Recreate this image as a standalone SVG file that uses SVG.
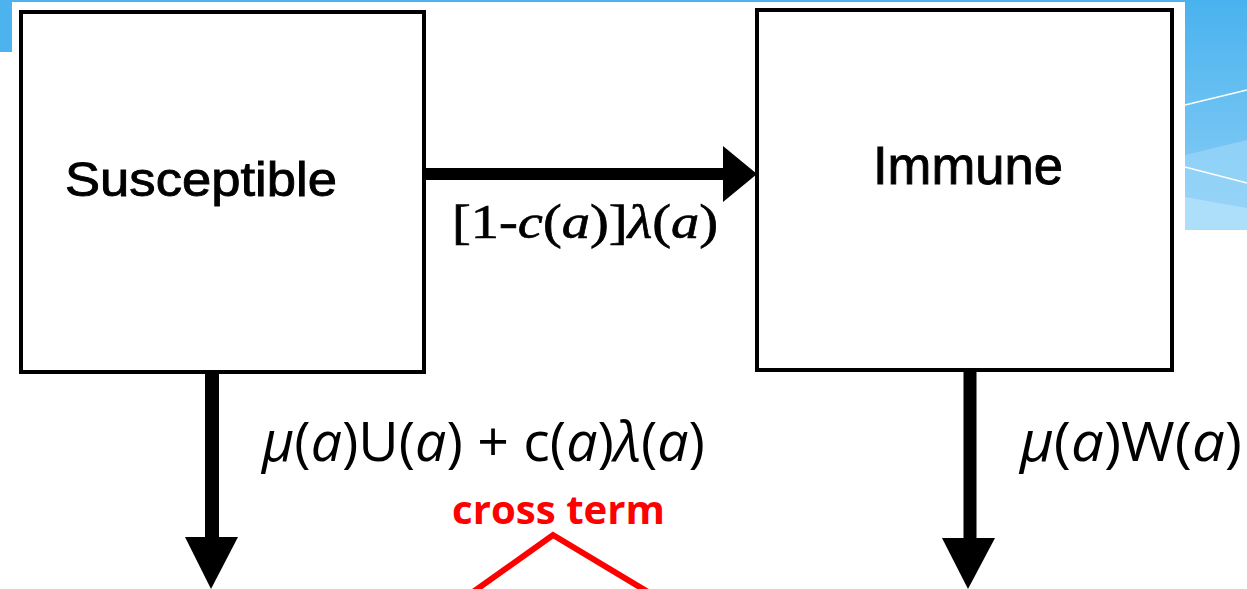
<svg xmlns="http://www.w3.org/2000/svg" width="1247" height="589" viewBox="0 0 1247 589">
<defs>
<linearGradient id="bg" x1="0" y1="0" x2="0" y2="1">
<stop offset="0" stop-color="#49b2ee"/>
<stop offset="1" stop-color="#8fd0f6"/>
</linearGradient>
<style>
.box{fill:#fff;stroke:#000;stroke-width:4}
.shaft{stroke:#000;fill:none}
.head{fill:#000}
.lbl{font-family:"Liberation Sans",Arial,sans-serif;fill:#000;stroke:#000;stroke-width:0.9}
.tm{font-family:"Liberation Serif","Times New Roman",serif;fill:#000;stroke:#000;stroke-width:0.7}
.eq{font-family:"Open Sans","Noto Sans",sans-serif;fill:#000}
.it{font-style:italic}
.red{font-family:"Open Sans","Noto Sans",sans-serif;font-weight:bold;fill:#ff0000}
</style>
</defs>
<rect x="0" y="0" width="1247" height="589" fill="#fff"/>
<!-- background decoration -->
<g id="decor">
<rect x="0" y="0" width="1247" height="2" fill="#4db3ee"/>
<rect x="0" y="0" width="12" height="52" fill="#4db3ee"/>
<rect x="1185" y="0" width="62" height="230" fill="url(#bg)"/>
<polygon points="1185,155 1247,140 1247,230 1185,230" fill="#9ad6f8" opacity="0.7"/>
<polygon points="1185,197 1247,208 1247,230 1185,230" fill="#b3e1fa" opacity="0.8"/>
<line x1="1185" y1="105" x2="1247" y2="90" stroke="#fff" stroke-width="1.5"/>
<line x1="1185" y1="167" x2="1247" y2="183" stroke="#fff" stroke-width="1.5"/>
</g>
<g id="susceptible">
<rect class="box" x="21" y="12" width="403" height="360"/>
<text class="lbl" x="65" y="196" font-size="49" textLength="272" lengthAdjust="spacingAndGlyphs">Susceptible</text>
</g>
<g id="immune">
<rect class="box" x="757" y="10" width="415" height="360"/>
<text class="lbl" x="873" y="184" font-size="53" textLength="190" lengthAdjust="spacingAndGlyphs">Immune</text>
</g>
<g id="connectors">
<line class="shaft" x1="424" y1="174" x2="726" y2="174" stroke-width="12"/>
<polygon class="head" points="723,146 757,174 723,202"/>
<line class="shaft" x1="212" y1="372" x2="212" y2="540" stroke-width="14"/>
<polygon class="head" points="185,537 238,537 211,589"/>
<line class="shaft" x1="970" y1="370" x2="970" y2="540" stroke-width="13"/>
<polygon class="head" points="942,538 995,538 968,589"/>
<polyline points="473,592 553,535 648,592" fill="none" stroke="#ff0000" stroke-width="6"/>
</g>
<g id="labels">
<text class="tm" x="452" y="238" font-size="48" textLength="266" lengthAdjust="spacingAndGlyphs">[1-<tspan class="it">c</tspan>(<tspan class="it">a</tspan>)]<tspan class="it">λ</tspan>(<tspan class="it">a</tspan>)</text>
<text class="eq" x="262" y="461" font-size="55" textLength="443" lengthAdjust="spacingAndGlyphs"><tspan class="it">μ</tspan>(<tspan class="it">a</tspan>)U(<tspan class="it">a</tspan>) + c(<tspan class="it">a</tspan>)<tspan class="it">λ</tspan>(<tspan class="it">a</tspan>)</text>
<text class="eq" x="1020" y="461" font-size="55" textLength="222" lengthAdjust="spacingAndGlyphs"><tspan class="it">μ</tspan>(<tspan class="it">a</tspan>)W(<tspan class="it">a</tspan>)</text>
<text class="red" x="452" y="524" font-size="40" textLength="213" lengthAdjust="spacingAndGlyphs">cross term</text>
</g>
</svg>
